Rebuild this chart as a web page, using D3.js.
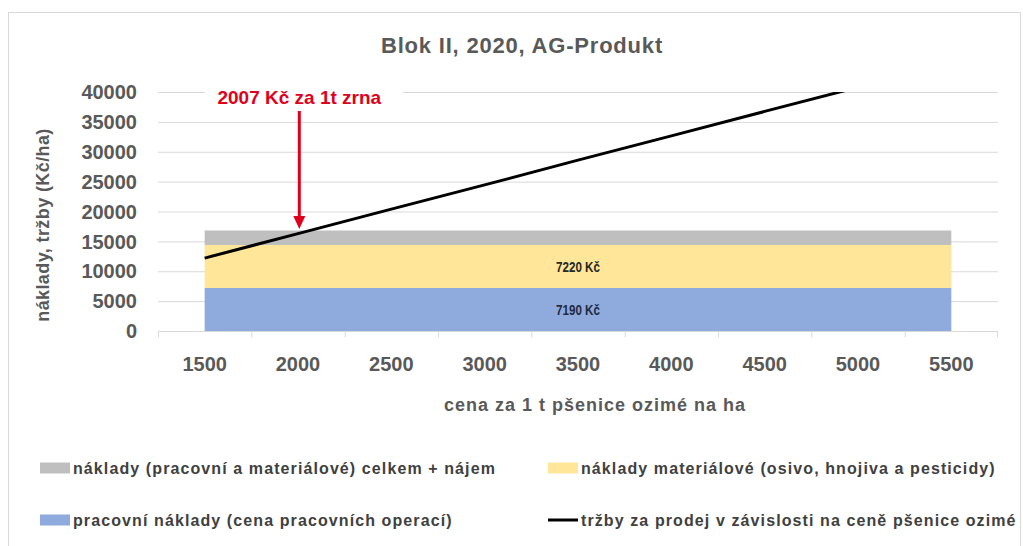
<!DOCTYPE html>
<html>
<head>
<meta charset="utf-8">
<script src="https://cdn.jsdelivr.net/npm/d3@7"></script>
<style>
  body { margin: 0; background: #fff; }
  text { font-family: "Liberation Sans", Arial, sans-serif; }
</style>
</head>
<body>
<div id="chart"></div>
<script>
// categories on the x axis (price of wheat, Kč/t)
const prices = ["1500", "2000", "2500", "3000", "3500", "4000", "4500", "5000", "5500"];

// stacked cost series (Kč/ha)
const labourCost   = [7190, 7190, 7190, 7190, 7190, 7190, 7190, 7190, 7190];
const materialCost = [7220, 7220, 7220, 7220, 7220, 7220, 7220, 7220, 7220];
const rentCost     = [2390, 2390, 2390, 2390, 2390, 2390, 2390, 2390, 2390];

// revenue line (Kč/ha)
const revenue = [12200, 16300, 20400, 24450, 28600, 32650, 36750, 40800, 44900];

const yTicks = [0, 5000, 10000, 15000, 20000, 25000, 30000, 35000, 40000];

const legendLabels = [
  "náklady (pracovní a materiálové) celkem + nájem",
  "náklady materiálové (osivo, hnojiva a pesticidy)",
  "pracovní náklady (cena pracovních operací)",
  "tržby za prodej v závislosti na ceně pšenice ozimé"
];

const width = 1023, height = 546;
const margin = {top: 92, bottom: 215, left: 158, right: 25};
const grey = "#595959";

const svg = d3.select("#chart")
  .append("svg")
  .attr("width", width)
  .attr("height", height);

// chart frame
svg.append("rect")
  .attr("x", 8.5).attr("y", 12.5)
  .attr("width", 1012).attr("height", 560)
  .attr("fill", "#fff")
  .attr("stroke", "#d9d9d9");

const xScale = d3.scaleBand()
  .domain(prices)
  .range([margin.left, width - margin.right]);
const xMid = d => xScale(d) + xScale.bandwidth() / 2;

const yScale = d3.scaleLinear()
  .domain([0, 40000])
  .range([height - margin.bottom, margin.top]);

// title
svg.append("text")
  .attr("x", 522).attr("y", 53)
  .attr("text-anchor", "middle")
  .style("font-size", "22px").style("font-weight", "bold")
  .style("letter-spacing", "0.8px")
  .attr("fill", grey)
  .text("Blok II, 2020, AG-Produkt");

// gridlines
svg.append("g")
  .selectAll("line")
  .data(yTicks.slice(1))
  .enter().append("line")
  .attr("x1", margin.left).attr("x2", width - margin.right)
  .attr("y1", d => yScale(d) + 0.5).attr("y2", d => yScale(d) + 0.5)
  .attr("stroke", "#d9d9d9");

// y tick labels
svg.append("g")
  .selectAll("text")
  .data(yTicks)
  .enter().append("text")
  .attr("x", 137)
  .attr("y", d => yScale(d))
  .attr("dy", "0.36em")
  .attr("text-anchor", "end")
  .style("font-size", "20px").style("font-weight", "bold")
  .attr("fill", grey)
  .text(d => d);

// stacked areas
const table = prices.map((p, i) => ({
  price: p, labour: labourCost[i], material: materialCost[i], rent: rentCost[i]
}));
const stack = d3.stack().keys(["labour", "material", "rent"]);
const colors = {labour: "#8faadc", material: "#ffe699", rent: "#bfbfbf"};

const area = d3.area()
  .x(d => xMid(d.data.price))
  .y0(d => yScale(d[0]))
  .y1(d => yScale(d[1]));

svg.append("g")
  .selectAll("path")
  .data(stack(table))
  .enter().append("path")
  .attr("d", area)
  .attr("fill", d => colors[d.key]);

// band value labels
const midX = (xMid(prices[0]) + xMid(prices[prices.length - 1])) / 2;
svg.append("text")
  .attr("x", midX).attr("y", yScale(labourCost[4] + materialCost[4] / 2))
  .attr("dy", "0.36em").attr("text-anchor", "middle")
  .attr("textLength", 44).attr("lengthAdjust", "spacingAndGlyphs")
  .style("font-size", "14px").style("font-weight", "bold")
  .attr("fill", "#262626")
  .text(materialCost[4] + " Kč");
svg.append("text")
  .attr("x", midX).attr("y", yScale(labourCost[4] / 2))
  .attr("dy", "0.36em").attr("text-anchor", "middle")
  .attr("textLength", 44).attr("lengthAdjust", "spacingAndGlyphs")
  .style("font-size", "14px").style("font-weight", "bold")
  .attr("fill", "#1f2a44")
  .text(labourCost[4] + " Kč");

// x axis
const xAxis = svg.append("g")
  .attr("transform", `translate(0,${yScale(0) + 0.5})`);
xAxis.append("line")
  .attr("x1", margin.left).attr("x2", width - margin.right)
  .attr("stroke", "#d9d9d9");
xAxis.selectAll(".tick")
  .data(prices.concat(["end"]))
  .enter().append("line")
  .attr("x1", (d, i) => i < prices.length ? xScale(d) + 0.5 : width - margin.right - 0.5)
  .attr("x2", (d, i) => i < prices.length ? xScale(d) + 0.5 : width - margin.right - 0.5)
  .attr("y1", 0).attr("y2", 6)
  .attr("stroke", "#d9d9d9");
xAxis.selectAll("text")
  .data(prices)
  .enter().append("text")
  .attr("x", d => xMid(d))
  .attr("y", 39)
  .attr("text-anchor", "middle")
  .style("font-size", "20px").style("font-weight", "bold")
  .attr("fill", grey)
  .text(d => d);

// revenue line (clipped to the plot area)
svg.append("clipPath").attr("id", "plot")
  .append("rect")
  .attr("x", margin.left).attr("y", margin.top)
  .attr("width", width - margin.left - margin.right)
  .attr("height", yScale(0) - margin.top);

const line = d3.line()
  .x((d, i) => xMid(prices[i]))
  .y(d => yScale(d));

svg.append("path")
  .datum(revenue)
  .attr("clip-path", "url(#plot)")
  .attr("d", line)
  .attr("fill", "none")
  .attr("stroke", "#000")
  .attr("stroke-width", 3);

// annotation: break-even price
const breakEven = 2007;
const beX = xMid("1500") + (breakEven - 1500) / 500 * xScale.bandwidth();
svg.append("rect")
  .attr("x", 205).attr("y", 72)
  .attr("width", 198).attr("height", 38)
  .attr("fill", "#fff");
svg.append("text")
  .attr("x", beX).attr("y", 104)
  .attr("text-anchor", "middle")
  .style("font-size", "19px").style("font-weight", "bold")
  .attr("fill", "#e0001b")
  .text("2007 Kč za 1t zrna");
svg.append("line")
  .attr("x1", beX).attr("x2", beX)
  .attr("y1", 111).attr("y2", 218)
  .attr("stroke", "#e0001b").attr("stroke-width", 3);
svg.append("path")
  .attr("d", `M${beX - 6},216 L${beX + 6},216 L${beX},229 Z`)
  .attr("fill", "#e0001b");

// axis titles
svg.append("text")
  .attr("transform", `translate(49,225) rotate(-90)`)
  .attr("text-anchor", "middle")
  .style("font-size", "18px").style("font-weight", "bold")
  .style("letter-spacing", "0.4px")
  .attr("fill", grey)
  .text("náklady, tržby (Kč/ha)");

svg.append("text")
  .attr("x", 595).attr("y", 411)
  .attr("text-anchor", "middle")
  .style("font-size", "18px").style("font-weight", "bold")
  .style("letter-spacing", "1px")
  .attr("fill", grey)
  .text("cena za 1 t pšenice ozimé na ha");

// legend
const legendPos = [
  {x: 40, y: 468, kind: "rent"},
  {x: 548, y: 468, kind: "material"},
  {x: 40, y: 520, kind: "labour"},
  {x: 548, y: 520, kind: "line"}
];
const legend = svg.selectAll(".legend")
  .data(legendLabels)
  .enter().append("g")
  .attr("class", "legend")
  .attr("transform", (d, i) => `translate(${legendPos[i].x},${legendPos[i].y})`);

legend.each(function(d, i) {
  const g = d3.select(this);
  if (legendPos[i].kind === "line") {
    g.append("line")
      .attr("x1", 0).attr("x2", 30)
      .attr("stroke", "#000").attr("stroke-width", 3);
  } else {
    g.append("rect")
      .attr("x", 0).attr("y", -5.5)
      .attr("width", 30).attr("height", 11)
      .attr("fill", colors[legendPos[i].kind]);
  }
  g.append("text")
    .attr("x", 33)
    .attr("dy", "0.36em")
    .style("font-size", "16px").style("font-weight", "bold")
    .style("letter-spacing", "1.1px")
    .attr("fill", "#404040")
    .text(d);
});
</script>
</body>
</html>
